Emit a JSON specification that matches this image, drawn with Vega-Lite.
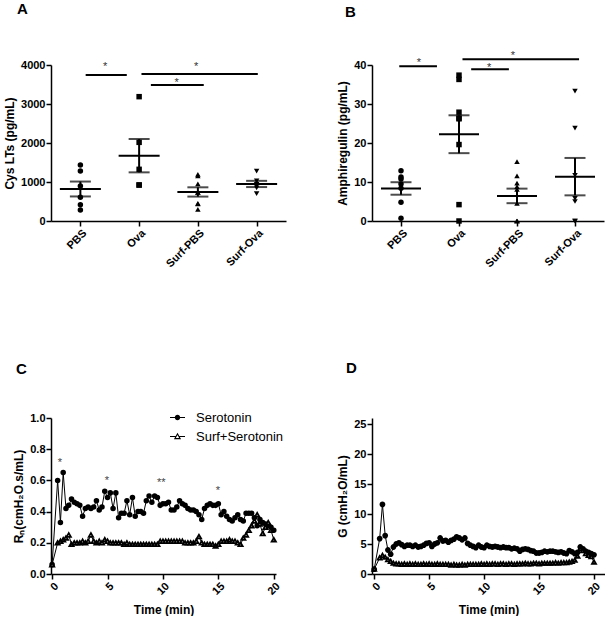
{
 "$schema": "https://vega.github.io/schema/vega-lite/v6.json",
 "padding": {"left": 3, "top": 2, "right": 0, "bottom": 0},
 "columns": 2,
 "spacing": {"row": 92, "column": 50},
 "resolve": {"scale": {"shape": "independent", "fill": "independent", "size": "independent"}, "legend": {"shape": "independent", "fill": "independent", "size": "independent"}},
 "config": {
  "font": "Liberation Sans",
  "view": {"stroke": null},
  "axis": {"domainColor": "black", "domainWidth": 1.5, "tickColor": "black", "tickWidth": 1.5, "tickSize": 5, "labelColor": "black", "labelFontWeight": "bold", "labelFontSize": 11, "labelPadding": 1, "labelOverlap": false, "titleFontWeight": "bold", "titleFontSize": 12, "titleColor": "black", "grid": false},
  "axisY": {"titlePadding": 4},
  "axisX": {"titlePadding": 8},
  "title": {"fontSize": 15, "fontWeight": "bold", "color": "black", "anchor": "start", "frame": "group"}
 },
 "datasets": {
  "cys": [
   {"group": "PBS", "value": 1436}, {"group": "PBS", "value": 1282}, {"group": "PBS", "value": 897}, {"group": "PBS", "value": 607}, {"group": "PBS", "value": 419}, {"group": "PBS", "value": 282},
   {"group": "Ova", "value": 3188}, {"group": "Ova", "value": 2017}, {"group": "Ova", "value": 1325}, {"group": "Ova", "value": 923}, {"group": "Ova", "value": 923},
   {"group": "Surf-PBS", "value": 1154}, {"group": "Surf-PBS", "value": 1197}, {"group": "Surf-PBS", "value": 949}, {"group": "Surf-PBS", "value": 735}, {"group": "Surf-PBS", "value": 735}, {"group": "Surf-PBS", "value": 453}, {"group": "Surf-PBS", "value": 436}, {"group": "Surf-PBS", "value": 300},
   {"group": "Surf-Ova", "value": 1280}, {"group": "Surf-Ova", "value": 1030}, {"group": "Surf-Ova", "value": 940}, {"group": "Surf-Ova", "value": 900}, {"group": "Surf-Ova", "value": 850}, {"group": "Surf-Ova", "value": 700}
  ],
  "areg": [
   {"group": "PBS", "value": 11.3}, {"group": "PBS", "value": 10.8}, {"group": "PBS", "value": 12.9}, {"group": "PBS", "value": 9.5}, {"group": "PBS", "value": 8.4}, {"group": "PBS", "value": 4.8}, {"group": "PBS", "value": 0.7},
   {"group": "Ova", "value": 37.4}, {"group": "Ova", "value": 36.3}, {"group": "Ova", "value": 27.9}, {"group": "Ova", "value": 26.4}, {"group": "Ova", "value": 26.2}, {"group": "Ova", "value": 19.6}, {"group": "Ova", "value": 4.2}, {"group": "Ova", "value": 0},
   {"group": "Surf-PBS", "value": 15.2}, {"group": "Surf-PBS", "value": 11.6}, {"group": "Surf-PBS", "value": 9.7}, {"group": "Surf-PBS", "value": 8.8}, {"group": "Surf-PBS", "value": 8.1}, {"group": "Surf-PBS", "value": 4.5}, {"group": "Surf-PBS", "value": 0}, {"group": "Surf-PBS", "value": 0}, {"group": "Surf-PBS", "value": 0},
   {"group": "Surf-Ova", "value": 33.3}, {"group": "Surf-Ova", "value": 23.8}, {"group": "Surf-Ova", "value": 11.7}, {"group": "Surf-Ova", "value": 5.8}, {"group": "Surf-Ova", "value": 5.0}, {"group": "Surf-Ova", "value": 0}, {"group": "Surf-Ova", "value": 0}
  ],
  "sigA": [
   {"x1": 1.09, "x2": 1.79, "y": 3744, "xm": 1.42, "ys": 4026, "label": "*"},
   {"x1": 2.04, "x2": 4.02, "y": 3769, "xm": 2.97, "ys": 4026, "label": "*"},
   {"x1": 2.2, "x2": 3.1, "y": 3487, "xm": 2.64, "ys": 3615, "label": "*"}
  ],
  "sigB": [
   {"x1": 0.97, "x2": 1.62, "y": 39.7, "xm": 1.31, "ys": 41.3, "label": "*"},
   {"x1": 2.06, "x2": 4.07, "y": 41.5, "xm": 2.93, "ys": 43.2, "label": "*"},
   {"x1": 2.21, "x2": 2.86, "y": 38.9, "xm": 2.52, "ys": 40.0, "label": "*"}
  ],
  "starsC": [
   {"time": 0.7, "y": 0.73, "label": "*"},
   {"time": 4.95, "y": 0.615, "label": "*"},
   {"time": 9.85, "y": 0.6, "label": "**"},
   {"time": 14.95, "y": 0.55, "label": "*"}
  ],
  "rn": [
   {"time": 0, "Serotonin": 0.06, "Surf+Serotonin": 0.06},
   {"time": 0.5, "Serotonin": 0.60, "Surf+Serotonin": 0.20},
   {"time": 0.75, "Serotonin": 0.33, "Surf+Serotonin": 0.21},
   {"time": 1, "Serotonin": 0.65, "Surf+Serotonin": 0.22},
   {"time": 1.25, "Serotonin": 0.42, "Surf+Serotonin": 0.23},
   {"time": 1.5, "Serotonin": 0.44, "Surf+Serotonin": 0.25},
   {"time": 1.75, "Serotonin": 0.48, "Surf+Serotonin": 0.19},
   {"time": 2, "Serotonin": 0.46, "Surf+Serotonin": 0.20},
   {"time": 2.25, "Serotonin": 0.45, "Surf+Serotonin": 0.20},
   {"time": 2.5, "Serotonin": 0.44, "Surf+Serotonin": 0.20},
   {"time": 2.75, "Serotonin": 0.37, "Surf+Serotonin": 0.21},
   {"time": 3, "Serotonin": 0.42, "Surf+Serotonin": 0.20},
   {"time": 3.25, "Serotonin": 0.43, "Surf+Serotonin": 0.21},
   {"time": 3.5, "Serotonin": 0.42, "Surf+Serotonin": 0.25},
   {"time": 3.75, "Serotonin": 0.43, "Surf+Serotonin": 0.21},
   {"time": 4, "Serotonin": 0.47, "Surf+Serotonin": 0.20},
   {"time": 4.25, "Serotonin": 0.41, "Surf+Serotonin": 0.21},
   {"time": 4.5, "Serotonin": 0.43, "Surf+Serotonin": 0.20},
   {"time": 4.75, "Serotonin": 0.53, "Surf+Serotonin": 0.22},
   {"time": 5, "Serotonin": 0.49, "Surf+Serotonin": 0.21},
   {"time": 5.25, "Serotonin": 0.52, "Surf+Serotonin": 0.20},
   {"time": 5.5, "Serotonin": 0.42, "Surf+Serotonin": 0.20},
   {"time": 5.75, "Serotonin": 0.52, "Surf+Serotonin": 0.20},
   {"time": 6, "Serotonin": 0.36, "Surf+Serotonin": 0.20},
   {"time": 6.25, "Serotonin": 0.39, "Surf+Serotonin": 0.20},
   {"time": 6.5, "Serotonin": 0.39, "Surf+Serotonin": 0.19},
   {"time": 6.75, "Serotonin": 0.47, "Surf+Serotonin": 0.20},
   {"time": 7, "Serotonin": 0.38, "Surf+Serotonin": 0.19},
   {"time": 7.25, "Serotonin": 0.49, "Surf+Serotonin": 0.19},
   {"time": 7.5, "Serotonin": 0.37, "Surf+Serotonin": 0.19},
   {"time": 7.75, "Serotonin": 0.40, "Surf+Serotonin": 0.19},
   {"time": 8, "Serotonin": 0.40, "Surf+Serotonin": 0.19},
   {"time": 8.25, "Serotonin": 0.39, "Surf+Serotonin": 0.19},
   {"time": 8.5, "Serotonin": 0.47, "Surf+Serotonin": 0.19},
   {"time": 8.75, "Serotonin": 0.50, "Surf+Serotonin": 0.19},
   {"time": 9, "Serotonin": 0.46, "Surf+Serotonin": 0.19},
   {"time": 9.25, "Serotonin": 0.50, "Surf+Serotonin": 0.19},
   {"time": 9.5, "Serotonin": 0.49, "Surf+Serotonin": 0.19},
   {"time": 9.75, "Serotonin": 0.44, "Surf+Serotonin": 0.21},
   {"time": 10, "Serotonin": 0.45, "Surf+Serotonin": 0.21},
   {"time": 10.25, "Serotonin": 0.45, "Surf+Serotonin": 0.21},
   {"time": 10.5, "Serotonin": 0.46, "Surf+Serotonin": 0.21},
   {"time": 10.75, "Serotonin": 0.41, "Surf+Serotonin": 0.21},
   {"time": 11, "Serotonin": 0.41, "Surf+Serotonin": 0.21},
   {"time": 11.25, "Serotonin": 0.43, "Surf+Serotonin": 0.21},
   {"time": 11.5, "Serotonin": 0.47, "Surf+Serotonin": 0.21},
   {"time": 11.75, "Serotonin": 0.45, "Surf+Serotonin": 0.21},
   {"time": 12, "Serotonin": 0.44, "Surf+Serotonin": 0.20},
   {"time": 12.25, "Serotonin": 0.42, "Surf+Serotonin": 0.20},
   {"time": 12.5, "Serotonin": 0.41, "Surf+Serotonin": 0.20},
   {"time": 12.75, "Serotonin": 0.41, "Surf+Serotonin": 0.20},
   {"time": 13, "Serotonin": 0.40, "Surf+Serotonin": 0.21},
   {"time": 13.25, "Serotonin": 0.38, "Surf+Serotonin": 0.24},
   {"time": 13.5, "Serotonin": 0.35, "Surf+Serotonin": 0.20},
   {"time": 13.75, "Serotonin": 0.42, "Surf+Serotonin": 0.19},
   {"time": 14, "Serotonin": 0.44, "Surf+Serotonin": 0.19},
   {"time": 14.25, "Serotonin": 0.45, "Surf+Serotonin": 0.19},
   {"time": 14.5, "Serotonin": 0.44, "Surf+Serotonin": 0.19},
   {"time": 14.75, "Serotonin": 0.44, "Surf+Serotonin": 0.18},
   {"time": 15, "Serotonin": 0.45, "Surf+Serotonin": 0.19},
   {"time": 15.25, "Serotonin": 0.38, "Surf+Serotonin": 0.21},
   {"time": 15.5, "Serotonin": 0.40, "Surf+Serotonin": 0.21},
   {"time": 15.75, "Serotonin": 0.37, "Surf+Serotonin": 0.21},
   {"time": 16, "Serotonin": 0.35, "Surf+Serotonin": 0.22},
   {"time": 16.25, "Serotonin": 0.34, "Surf+Serotonin": 0.21},
   {"time": 16.5, "Serotonin": 0.36, "Surf+Serotonin": 0.21},
   {"time": 16.75, "Serotonin": 0.38, "Surf+Serotonin": 0.20},
   {"time": 17, "Serotonin": 0.35, "Surf+Serotonin": 0.19},
   {"time": 17.25, "Serotonin": 0.34, "Surf+Serotonin": 0.23},
   {"time": 17.5, "Serotonin": 0.39, "Surf+Serotonin": 0.25},
   {"time": 17.75, "Serotonin": 0.39, "Surf+Serotonin": 0.28},
   {"time": 18, "Serotonin": 0.39, "Surf+Serotonin": 0.31},
   {"time": 18.25, "Serotonin": 0.36, "Surf+Serotonin": 0.34},
   {"time": 18.5, "Serotonin": 0.31, "Surf+Serotonin": 0.38},
   {"time": 18.75, "Serotonin": 0.35, "Surf+Serotonin": 0.32},
   {"time": 19, "Serotonin": 0.33, "Surf+Serotonin": 0.26},
   {"time": 19.25, "Serotonin": 0.32, "Surf+Serotonin": 0.30},
   {"time": 19.5, "Serotonin": 0.31, "Surf+Serotonin": 0.33},
   {"time": 19.75, "Serotonin": 0.30, "Surf+Serotonin": 0.28},
   {"time": 20, "Serotonin": 0.28, "Surf+Serotonin": 0.22}
  ],
  "gval": [
   {"time": 0, "Serotonin": 0.8, "Surf+Serotonin": 0.8},
   {"time": 0.5, "Serotonin": 5.9, "Surf+Serotonin": 2.7},
   {"time": 0.75, "Serotonin": 11.6, "Surf+Serotonin": 3.1},
   {"time": 1, "Serotonin": 6.4, "Surf+Serotonin": 2.8},
   {"time": 1.25, "Serotonin": 4.0, "Surf+Serotonin": 2.4},
   {"time": 1.5, "Serotonin": 3.3, "Surf+Serotonin": 2.1},
   {"time": 1.75, "Serotonin": 4.5, "Surf+Serotonin": 1.8},
   {"time": 2, "Serotonin": 5.0, "Surf+Serotonin": 1.7},
   {"time": 2.25, "Serotonin": 5.2, "Surf+Serotonin": 1.7},
   {"time": 2.5, "Serotonin": 4.9, "Surf+Serotonin": 1.6},
   {"time": 2.75, "Serotonin": 4.6, "Surf+Serotonin": 1.7},
   {"time": 3, "Serotonin": 4.8, "Surf+Serotonin": 1.6},
   {"time": 3.25, "Serotonin": 4.8, "Surf+Serotonin": 1.7},
   {"time": 3.5, "Serotonin": 4.6, "Surf+Serotonin": 1.6},
   {"time": 3.75, "Serotonin": 4.8, "Surf+Serotonin": 1.7},
   {"time": 4, "Serotonin": 4.5, "Surf+Serotonin": 1.6},
   {"time": 4.25, "Serotonin": 4.6, "Surf+Serotonin": 1.6},
   {"time": 4.5, "Serotonin": 4.8, "Surf+Serotonin": 1.7},
   {"time": 4.75, "Serotonin": 5.1, "Surf+Serotonin": 1.6},
   {"time": 5, "Serotonin": 5.2, "Surf+Serotonin": 1.7},
   {"time": 5.25, "Serotonin": 4.6, "Surf+Serotonin": 1.6},
   {"time": 5.5, "Serotonin": 5.0, "Surf+Serotonin": 1.6},
   {"time": 5.75, "Serotonin": 5.2, "Surf+Serotonin": 1.7},
   {"time": 6, "Serotonin": 6.0, "Surf+Serotonin": 1.6},
   {"time": 6.25, "Serotonin": 5.5, "Surf+Serotonin": 1.6},
   {"time": 6.5, "Serotonin": 5.6, "Surf+Serotonin": 1.6},
   {"time": 6.75, "Serotonin": 5.3, "Surf+Serotonin": 1.6},
   {"time": 7, "Serotonin": 5.6, "Surf+Serotonin": 1.5},
   {"time": 7.25, "Serotonin": 5.8, "Surf+Serotonin": 1.6},
   {"time": 7.5, "Serotonin": 6.2, "Surf+Serotonin": 1.5},
   {"time": 7.75, "Serotonin": 6.0, "Surf+Serotonin": 1.5},
   {"time": 8, "Serotonin": 5.7, "Surf+Serotonin": 1.6},
   {"time": 8.25, "Serotonin": 6.0, "Surf+Serotonin": 1.5},
   {"time": 8.5, "Serotonin": 5.1, "Surf+Serotonin": 1.6},
   {"time": 8.75, "Serotonin": 4.8, "Surf+Serotonin": 1.6},
   {"time": 9, "Serotonin": 4.6, "Surf+Serotonin": 1.6},
   {"time": 9.25, "Serotonin": 4.4, "Surf+Serotonin": 1.6},
   {"time": 9.5, "Serotonin": 4.8, "Surf+Serotonin": 1.6},
   {"time": 9.75, "Serotonin": 4.5, "Surf+Serotonin": 1.7},
   {"time": 10, "Serotonin": 4.4, "Surf+Serotonin": 1.6},
   {"time": 10.25, "Serotonin": 4.8, "Surf+Serotonin": 1.7},
   {"time": 10.5, "Serotonin": 4.6, "Surf+Serotonin": 1.6},
   {"time": 10.75, "Serotonin": 4.5, "Surf+Serotonin": 1.7},
   {"time": 11, "Serotonin": 4.6, "Surf+Serotonin": 1.7},
   {"time": 11.25, "Serotonin": 4.5, "Surf+Serotonin": 1.6},
   {"time": 11.5, "Serotonin": 4.4, "Surf+Serotonin": 1.7},
   {"time": 11.75, "Serotonin": 4.5, "Surf+Serotonin": 1.7},
   {"time": 12, "Serotonin": 4.4, "Surf+Serotonin": 1.6},
   {"time": 12.25, "Serotonin": 4.4, "Surf+Serotonin": 1.7},
   {"time": 12.5, "Serotonin": 4.2, "Surf+Serotonin": 1.7},
   {"time": 12.75, "Serotonin": 4.3, "Surf+Serotonin": 1.6},
   {"time": 13, "Serotonin": 4.2, "Surf+Serotonin": 1.7},
   {"time": 13.25, "Serotonin": 3.8, "Surf+Serotonin": 1.7},
   {"time": 13.5, "Serotonin": 4.1, "Surf+Serotonin": 1.7},
   {"time": 13.75, "Serotonin": 4.2, "Surf+Serotonin": 1.8},
   {"time": 14, "Serotonin": 4.1, "Surf+Serotonin": 1.7},
   {"time": 14.25, "Serotonin": 3.9, "Surf+Serotonin": 1.7},
   {"time": 14.5, "Serotonin": 3.8, "Surf+Serotonin": 1.8},
   {"time": 14.75, "Serotonin": 3.5, "Surf+Serotonin": 1.8},
   {"time": 15, "Serotonin": 3.5, "Surf+Serotonin": 1.7},
   {"time": 15.25, "Serotonin": 3.6, "Surf+Serotonin": 1.8},
   {"time": 15.5, "Serotonin": 3.8, "Surf+Serotonin": 1.8},
   {"time": 15.75, "Serotonin": 3.7, "Surf+Serotonin": 1.8},
   {"time": 16, "Serotonin": 3.8, "Surf+Serotonin": 1.8},
   {"time": 16.25, "Serotonin": 3.8, "Surf+Serotonin": 1.8},
   {"time": 16.5, "Serotonin": 3.7, "Surf+Serotonin": 1.9},
   {"time": 16.75, "Serotonin": 3.6, "Surf+Serotonin": 1.8},
   {"time": 17, "Serotonin": 3.7, "Surf+Serotonin": 1.9},
   {"time": 17.25, "Serotonin": 3.5, "Surf+Serotonin": 1.9},
   {"time": 17.5, "Serotonin": 3.4, "Surf+Serotonin": 1.9},
   {"time": 17.75, "Serotonin": 3.9, "Surf+Serotonin": 2.0},
   {"time": 18, "Serotonin": 3.7, "Surf+Serotonin": 2.1},
   {"time": 18.25, "Serotonin": 3.4, "Surf+Serotonin": 2.3},
   {"time": 18.5, "Serotonin": 3.6, "Surf+Serotonin": 3.0},
   {"time": 18.75, "Serotonin": 4.5, "Surf+Serotonin": 4.2},
   {"time": 19, "Serotonin": 4.2, "Surf+Serotonin": 3.9},
   {"time": 19.25, "Serotonin": 3.8, "Surf+Serotonin": 3.4},
   {"time": 19.5, "Serotonin": 3.6, "Surf+Serotonin": 3.1},
   {"time": 19.75, "Serotonin": 3.4, "Surf+Serotonin": 2.9},
   {"time": 20, "Serotonin": 3.2, "Surf+Serotonin": 2.0}
  ]
 },
 "concat": [
  {
   "width": 235, "height": 156,
   "title": {"text": "A", "dx": -34, "offset": 42},
   "layer": [
    {
     "data": {"name": "cys"},
     "layer": [
      {"mark": {"type": "point", "filled": true, "color": "black", "opacity": 1},
       "encoding": {
        "x": {"field": "group", "type": "nominal", "sort": ["PBS", "Ova", "Surf-PBS", "Surf-Ova"], "scale": {"type": "point", "padding": 0.5, "domain": ["PBS", "Ova", "Surf-PBS", "Surf-Ova"]}, "axis": {"title": null, "labelAngle": -45}},
        "y": {"field": "value", "type": "quantitative", "title": "Cys LTs (pg/mL)", "scale": {"domain": [0, 4000]}, "axis": {"values": [0, 1000, 2000, 3000, 4000], "format": "d"}},
        "shape": {"field": "group", "type": "nominal", "scale": {"domain": ["PBS", "Ova", "Surf-PBS", "Surf-Ova"], "range": ["circle", "square", "triangle-up", "triangle-down"]}, "legend": null},
        "size": {"field": "group", "type": "nominal", "scale": {"domain": ["PBS", "Ova", "Surf-PBS", "Surf-Ova"], "range": [30, 30, 42, 42]}, "legend": null}
       }},
      {"mark": {"type": "errorbar", "extent": "stderr", "ticks": true, "size": 21, "thickness": 2, "color": "black"},
       "encoding": {
        "x": {"field": "group", "type": "nominal", "sort": ["PBS", "Ova", "Surf-PBS", "Surf-Ova"], "scale": {"type": "point", "padding": 0.5, "domain": ["PBS", "Ova", "Surf-PBS", "Surf-Ova"]}, "axis": {"title": null, "labelAngle": -45}},
        "y": {"field": "value", "type": "quantitative", "title": "Cys LTs (pg/mL)", "axis": {"values": [0, 1000, 2000, 3000, 4000], "format": "d"}}
       }},
      {"mark": {"type": "tick", "size": 41, "thickness": 2, "color": "black", "opacity": 1},
       "encoding": {
        "x": {"field": "group", "type": "nominal", "sort": ["PBS", "Ova", "Surf-PBS", "Surf-Ova"], "scale": {"type": "point", "padding": 0.5, "domain": ["PBS", "Ova", "Surf-PBS", "Surf-Ova"]}, "axis": {"title": null, "labelAngle": -45}},
        "y": {"aggregate": "mean", "field": "value", "type": "quantitative", "title": "Cys LTs (pg/mL)", "axis": {"values": [0, 1000, 2000, 3000, 4000], "format": "d"}}
       }}
     ]
    },
    {
     "data": {"name": "sigA"},
     "layer": [
      {"mark": {"type": "rule", "strokeWidth": 2, "color": "black"},
       "encoding": {
        "x": {"field": "x1", "type": "quantitative", "scale": {"domain": [0.5, 4.5], "nice": false, "zero": false}, "axis": null},
        "x2": {"field": "x2"},
        "y": {"field": "y", "type": "quantitative", "title": "Cys LTs (pg/mL)", "axis": {"values": [0, 1000, 2000, 3000, 4000], "format": "d"}}
       }},
      {"mark": {"type": "text", "fontSize": 11, "baseline": "middle", "dy": 3, "color": "#333333"},
       "encoding": {
        "x": {"field": "xm", "type": "quantitative", "scale": {"domain": [0.5, 4.5], "nice": false, "zero": false}, "axis": null},
        "y": {"field": "ys", "type": "quantitative", "title": "Cys LTs (pg/mL)", "axis": {"values": [0, 1000, 2000, 3000, 4000], "format": "d"}},
        "text": {"field": "label"}
       }}
     ]
    }
   ],
   "resolve": {"scale": {"x": "independent"}}
  },
  {
   "width": 232, "height": 156,
   "title": {"text": "B", "dx": -27, "offset": 30},
   "layer": [
    {
     "data": {"name": "areg"},
     "layer": [
      {"mark": {"type": "point", "filled": true, "color": "black", "opacity": 1},
       "encoding": {
        "x": {"field": "group", "type": "nominal", "sort": ["PBS", "Ova", "Surf-PBS", "Surf-Ova"], "scale": {"type": "point", "padding": 0.5, "domain": ["PBS", "Ova", "Surf-PBS", "Surf-Ova"]}, "axis": {"title": null, "labelAngle": -45}},
        "y": {"field": "value", "type": "quantitative", "title": "Amphiregulin (pg/mL)", "scale": {"domain": [0, 40]}, "axis": {"values": [0, 10, 20, 30, 40], "format": "d"}},
        "shape": {"field": "group", "type": "nominal", "scale": {"domain": ["PBS", "Ova", "Surf-PBS", "Surf-Ova"], "range": ["circle", "square", "triangle-up", "triangle-down"]}, "legend": null},
        "size": {"field": "group", "type": "nominal", "scale": {"domain": ["PBS", "Ova", "Surf-PBS", "Surf-Ova"], "range": [30, 30, 42, 42]}, "legend": null}
       }},
      {"mark": {"type": "errorbar", "extent": "stderr", "ticks": true, "size": 21, "thickness": 2, "color": "black"},
       "encoding": {
        "x": {"field": "group", "type": "nominal", "sort": ["PBS", "Ova", "Surf-PBS", "Surf-Ova"], "scale": {"type": "point", "padding": 0.5, "domain": ["PBS", "Ova", "Surf-PBS", "Surf-Ova"]}, "axis": {"title": null, "labelAngle": -45}},
        "y": {"field": "value", "type": "quantitative", "title": "Amphiregulin (pg/mL)", "axis": {"values": [0, 10, 20, 30, 40], "format": "d"}}
       }},
      {"mark": {"type": "tick", "size": 40, "thickness": 2, "color": "black", "opacity": 1},
       "encoding": {
        "x": {"field": "group", "type": "nominal", "sort": ["PBS", "Ova", "Surf-PBS", "Surf-Ova"], "scale": {"type": "point", "padding": 0.5, "domain": ["PBS", "Ova", "Surf-PBS", "Surf-Ova"]}, "axis": {"title": null, "labelAngle": -45}},
        "y": {"aggregate": "mean", "field": "value", "type": "quantitative", "title": "Amphiregulin (pg/mL)", "axis": {"values": [0, 10, 20, 30, 40], "format": "d"}}
       }}
     ]
    },
    {
     "data": {"name": "sigB"},
     "layer": [
      {"mark": {"type": "rule", "strokeWidth": 2, "color": "black"},
       "encoding": {
        "x": {"field": "x1", "type": "quantitative", "scale": {"domain": [0.5, 4.5], "nice": false, "zero": false}, "axis": null},
        "x2": {"field": "x2"},
        "y": {"field": "y", "type": "quantitative", "title": "Amphiregulin (pg/mL)", "axis": {"values": [0, 10, 20, 30, 40], "format": "d"}}
       }},
      {"mark": {"type": "text", "fontSize": 11, "baseline": "middle", "dy": 3, "color": "#333333"},
       "encoding": {
        "x": {"field": "xm", "type": "quantitative", "scale": {"domain": [0.5, 4.5], "nice": false, "zero": false}, "axis": null},
        "y": {"field": "ys", "type": "quantitative", "title": "Amphiregulin (pg/mL)", "axis": {"values": [0, 10, 20, 30, 40], "format": "d"}},
        "text": {"field": "label"}
       }}
     ]
    }
   ],
   "resolve": {"scale": {"x": "independent"}}
  },
  {
   "width": 225, "height": 156,
   "title": {"text": "C", "dx": -35, "offset": 33},
   "layer": [
    {"data": {"name": "rn"},
     "transform": [{"fold": ["Serotonin", "Surf+Serotonin"], "as": ["series", "value"]}],
     "mark": {"type": "line", "color": "black", "strokeWidth": 1},
     "encoding": {
      "x": {"field": "time", "type": "quantitative", "title": "Time (min)", "scale": {"domain": [-0.1, 20.2], "nice": false, "zero": false}, "axis": {"values": [0, 5, 10, 15, 20], "labelAngle": -45}},
      "y": {"field": "value", "type": "quantitative", "title": "Rₙ(cmH₂O.s/mL)", "scale": {"domain": [0, 1]}, "axis": {"values": [0, 0.2, 0.4, 0.6, 0.8, 1], "format": ".1f"}},
      "detail": {"field": "series", "type": "nominal"}
     }},
    {"data": {"name": "rn"},
     "transform": [{"fold": ["Serotonin", "Surf+Serotonin"], "as": ["series", "value"]}],
     "mark": {"type": "point", "opacity": 1, "stroke": "black", "strokeWidth": 1.8},
     "encoding": {
      "x": {"field": "time", "type": "quantitative", "title": "Time (min)", "axis": {"values": [0, 5, 10, 15, 20], "labelAngle": -45}},
      "y": {"field": "value", "type": "quantitative", "title": "Rₙ(cmH₂O.s/mL)", "axis": {"values": [0, 0.2, 0.4, 0.6, 0.8, 1], "format": ".1f"}},
      "shape": {"field": "series", "type": "nominal", "scale": {"domain": ["Serotonin", "Surf+Serotonin"], "range": ["circle", "triangle-up"]}, "legend": null},
      "fill": {"field": "series", "type": "nominal", "scale": {"domain": ["Serotonin", "Surf+Serotonin"], "range": ["black", "white"]}, "legend": null},
      "size": {"field": "series", "type": "nominal", "scale": {"domain": ["Serotonin", "Surf+Serotonin"], "range": [14, 18]}, "legend": null}
     }},
    {"data": {"name": "rn"},
     "transform": [{"fold": ["Serotonin", "Surf+Serotonin"], "as": ["series", "value"]}, {"filter": "datum.time < -100"}],
     "mark": {"type": "point", "filled": true, "color": "black", "opacity": 1, "strokeWidth": 0},
     "encoding": {
      "x": {"field": "time", "type": "quantitative", "title": "Time (min)", "axis": {"values": [0, 5, 10, 15, 20], "labelAngle": -45}},
      "y": {"field": "value", "type": "quantitative", "title": "Rₙ(cmH₂O.s/mL)", "axis": {"values": [0, 0.2, 0.4, 0.6, 0.8, 1], "format": ".1f"}},
      "shape": {"field": "series", "type": "nominal",
       "scale": {"domain": ["Serotonin", "Surf+Serotonin"], "range": [
        "M-1,-0.08H1V0.08H-1ZM-0.36,0A0.36,0.36 0 1 1 0.36,0A0.36,0.36 0 1 1 -0.36,0Z",
        "M-1,-0.08H-0.2V0.08H-1ZM0.2,-0.08H1V0.08H0.2ZM0,-0.5L0.48,0.36L-0.48,0.36ZM0,-0.2L-0.22,0.2L0.22,0.2Z"
       ]},
       "legend": {"title": null, "orient": "top-right", "offset": -8, "labelFontSize": 13, "labelFontWeight": "normal", "labelColor": "black", "symbolSize": 225, "symbolStrokeWidth": 0, "symbolFillColor": "black", "symbolOpacity": 1, "rowPadding": 4, "labelOffset": 11}}
     }},
    {"data": {"name": "starsC"},
     "mark": {"type": "text", "fontSize": 11, "color": "#444444", "baseline": "middle", "dy": 3},
     "encoding": {
      "x": {"field": "time", "type": "quantitative", "title": "Time (min)", "axis": {"values": [0, 5, 10, 15, 20], "labelAngle": -45}},
      "y": {"field": "y", "type": "quantitative", "title": "Rₙ(cmH₂O.s/mL)", "axis": {"values": [0, 0.2, 0.4, 0.6, 0.8, 1], "format": ".1f"}},
      "text": {"field": "label"}
     }}
   ],
   "resolve": {"scale": {"shape": "independent"}, "legend": {"shape": "independent"}}
  },
  {
   "width": 233, "height": 156,
   "title": {"text": "D", "dx": -26, "offset": 42},
   "data": {"name": "gval"},
   "transform": [{"fold": ["Serotonin", "Surf+Serotonin"], "as": ["series", "value"]}],
   "layer": [
    {"mark": {"type": "line", "color": "black", "strokeWidth": 1},
     "encoding": {
      "x": {"field": "time", "type": "quantitative", "title": "Time (min)", "scale": {"domain": [-0.2, 21], "nice": false, "zero": false}, "axis": {"values": [0, 5, 10, 15, 20], "labelAngle": -45}},
      "y": {"field": "value", "type": "quantitative", "title": "G (cmH₂O/mL)", "scale": {"domain": [0, 25]}, "axis": {"values": [0, 5, 10, 15, 20, 25], "format": "d"}},
      "detail": {"field": "series", "type": "nominal"}
     }},
    {"mark": {"type": "point", "opacity": 1, "stroke": "black", "strokeWidth": 1.8},
     "encoding": {
      "x": {"field": "time", "type": "quantitative", "title": "Time (min)", "axis": {"values": [0, 5, 10, 15, 20], "labelAngle": -45}},
      "y": {"field": "value", "type": "quantitative", "title": "G (cmH₂O/mL)", "axis": {"values": [0, 5, 10, 15, 20, 25], "format": "d"}},
      "shape": {"field": "series", "type": "nominal", "scale": {"domain": ["Serotonin", "Surf+Serotonin"], "range": ["circle", "triangle-up"]}, "legend": null},
      "fill": {"field": "series", "type": "nominal", "scale": {"domain": ["Serotonin", "Surf+Serotonin"], "range": ["black", "white"]}, "legend": null},
      "size": {"field": "series", "type": "nominal", "scale": {"domain": ["Serotonin", "Surf+Serotonin"], "range": [16, 16]}, "legend": null}
     }}
   ]
  }
 ]
}
